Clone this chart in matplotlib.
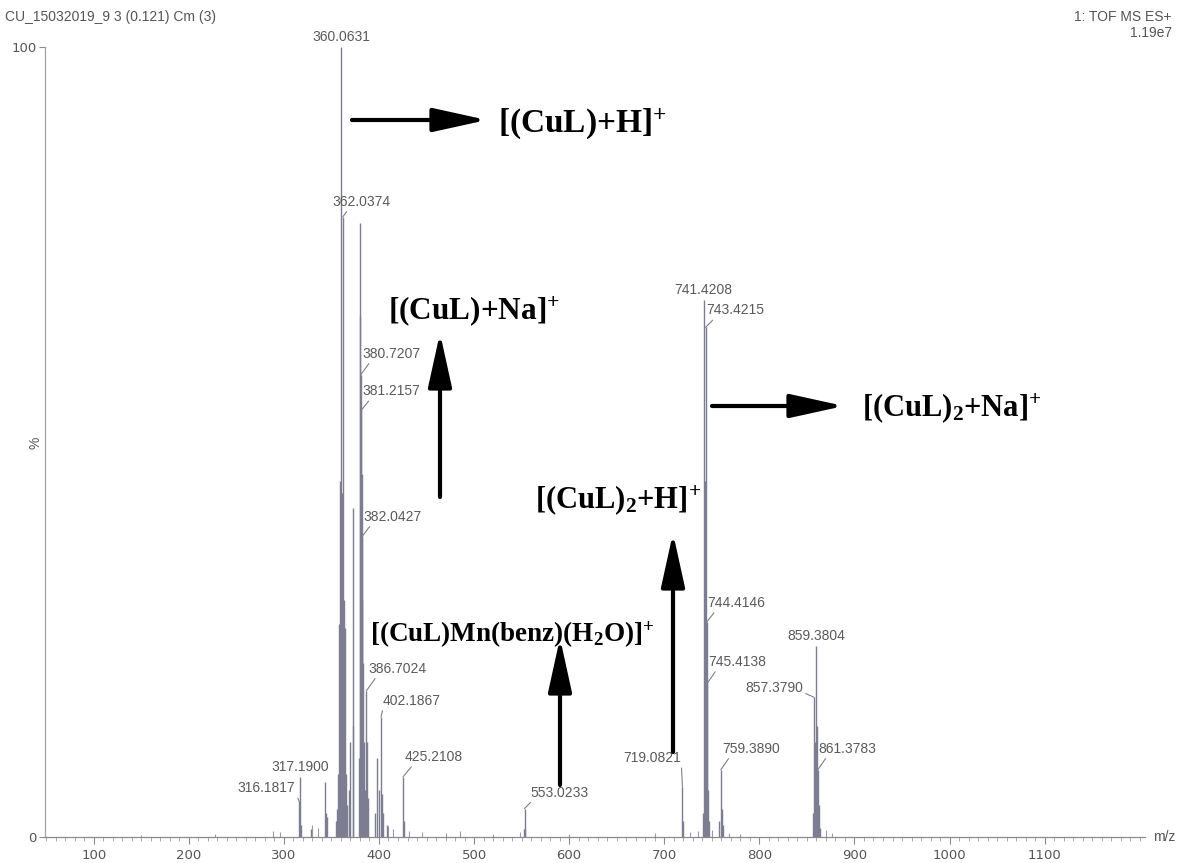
import matplotlib
matplotlib.use("Agg")
import matplotlib.pyplot as plt
from matplotlib.transforms import Affine2D
from matplotlib.ticker import MultipleLocator, FixedLocator

# ---- spectrum data (m/z, relative intensity %) ----
mz = [316.18, 317.19, 318.20, 329.0, 343.1, 344.1, 345.1, 355.0, 356.1,
      357.05, 358.05, 359.06, 360.0631, 361.07, 362.0374, 363.05, 364.04,
      365.05, 366.1, 368.2, 369.2, 372.5, 373.2, 378.7, 379.9, 380.22,
      380.7207, 381.2157, 381.72, 382.0427, 382.55, 383.04, 384.0, 385.2,
      386.7024, 387.20, 388.2, 396.2, 398.2, 400.2, 402.1867, 403.2, 404.2,
      408.2, 425.2108, 426.2, 552.02, 553.0233, 554.03, 719.0821, 720.08,
      740.4, 741.4208, 742.42, 743.4215, 744.4146, 745.4138, 746.41, 747.4,
      757.4, 759.3890, 760.39, 761.4, 856.4, 857.3790, 858.38, 859.3804,
      860.38, 861.3783, 862.38, 863.4]
intensity = [4.5, 7.6, 1.5, 1.0, 7.0, 3.0, 2.5, 2.0, 3.5,
             8.0, 27.0, 45.0, 100.0, 43.5, 78.5, 30.0, 26.5,
             8.0, 4.0, 6.0, 12.0, 41.6, 14.0, 10.0, 77.7, 66.0,
             58.5, 54.0, 46.0, 38.0, 30.0, 22.0, 12.0, 6.0,
             18.5, 12.0, 5.0, 3.0, 10.0, 6.0, 15.2, 5.5, 3.0,
             1.5, 7.6, 2.0, 1.0, 3.6, 1.2, 6.3, 2.0,
             3.0, 68.0, 45.0, 64.5, 27.2, 19.5, 6.0, 2.0,
             2.0, 8.5, 3.5, 1.5, 3.0, 17.7, 12.0, 24.2,
             14.0, 8.5, 4.0, 1.2]

# low-level baseline noise
noise_mz = [150, 228, 289, 296, 330, 336, 410, 415, 432, 445, 470, 485,
            520, 548, 600, 690, 727, 735, 750, 768, 780, 870, 876]
noise_int = [0.3, 0.4, 0.8, 0.6, 1.5, 1.2, 1.4, 1.0, 0.7, 0.6, 0.5, 0.8,
             0.4, 0.6, 0.4, 0.5, 0.6, 0.8, 0.9, 0.5, 0.4, 0.9, 0.5]

labelled = [316.18, 317.19, 360.0631, 362.0374, 380.7207, 381.2157,
            382.0427, 386.7024, 402.1867, 425.2108, 553.0233, 719.0821,
            741.4208, 743.4215, 744.4146, 745.4138, 759.3890, 857.3790,
            859.3804, 861.3783]
label_text = ["316.1817", "317.1900", "360.0631", "362.0374", "380.7207",
              "381.2157", "382.0427", "386.7024", "402.1867", "425.2108",
              "553.0233", "719.0821", "741.4208", "743.4215", "744.4146",
              "745.4138", "759.3890", "857.3790", "859.3804", "861.3783"]

x_ticks = list(range(100, 1200, 100))

W, H = 1178, 863
fig = plt.figure(figsize=(W / 100, H / 100), dpi=100)
fig.patch.set_facecolor("white")
plt.rcParams["mathtext.fontset"] = "custom"
plt.rcParams["mathtext.rm"] = "Liberation Serif:bold"
plt.rcParams["mathtext.it"] = "Liberation Serif:bold"
plt.rcParams["mathtext.bf"] = "Liberation Serif:bold"

# image-pixel coordinates (origin top-left) -> display
pix = Affine2D().scale(1, -1).translate(0, H)

ax = fig.add_axes([45 / W, 26 / H, 1100 / W, 790 / H])
ax.set_xlim(48.8, 1205.5)
ax.set_ylim(0, 100)

peak_col = "#7d7d92"
ax.vlines(noise_mz, 0, noise_int, color="#9a9aaa", lw=0.8)
ax.vlines(mz, 0, intensity, color=peak_col, lw=1.0)

for s in ("top", "right"):
    ax.spines[s].set_visible(False)
ax.spines["left"].set_color("#a0a0a0")
ax.spines["bottom"].set_color("#8a8a8a")
ax.spines["left"].set_linewidth(0.9)
ax.spines["bottom"].set_linewidth(0.9)

ax.yaxis.set_major_locator(FixedLocator([0, 100]))
ax.set_yticklabels(["0", "100"])
ax.xaxis.set_major_locator(FixedLocator(x_ticks))
ax.xaxis.set_minor_locator(MultipleLocator(10))
ax.tick_params(axis="both", which="major", colors="#8a8a8a", labelcolor="#555555",
               labelsize=9.5, length=5, width=0.8)
ax.tick_params(axis="x", which="minor", colors="#9a9a9a", length=3, width=0.6)
ax.tick_params(axis="y", which="major", length=4, pad=2)

# peak labels with leader lines (pixel offsets from the peak top)
label_style = {
    "316.1817": dict(dx=-4, dy=6, ha="right", rel=(1, 0.2)),
    "317.1900": dict(dx=0, dy=3, ha="center", rel=None),
    "360.0631": dict(dx=0, dy=3, ha="center", rel=None),
    "362.0374": dict(dx=-10, dy=8, ha="left", rel=(0.27, 0)),
    "380.7207": dict(dx=1.5, dy=14, ha="left", rel=(0.15, 0)),
    "381.2157": dict(dx=1, dy=12, ha="left", rel=(0.15, 0)),
    "382.0427": dict(dx=1, dy=13, ha="left", rel=(0.15, 0)),
    "386.7024": dict(dx=2, dy=15, ha="left", rel=(0.15, 0)),
    "402.1867": dict(dx=2, dy=9, ha="left", rel=(0.0, 0)),
    "425.2108": dict(dx=2, dy=13, ha="left", rel=(0.15, 0)),
    "553.0233": dict(dx=6, dy=9, ha="left", rel=(0.05, 0)),
    "719.0821": dict(dx=-1, dy=22, ha="right", rel=(1, 0)),
    "741.4208": dict(dx=0, dy=3, ha="center", rel=None),
    "743.4215": dict(dx=1, dy=10, ha="left", rel=(0.15, 0)),
    "744.4146": dict(dx=1, dy=12, ha="left", rel=(0.15, 0)),
    "745.4138": dict(dx=1, dy=14, ha="left", rel=(0.15, 0)),
    "759.3890": dict(dx=1, dy=14, ha="left", rel=(0.15, 0)),
    "857.3790": dict(dx=-11, dy=2, ha="right", rel=(1, 0.2)),
    "859.3804": dict(dx=0, dy=3, ha="center", rel=None),
    "861.3783": dict(dx=1, dy=14, ha="left", rel=(0.15, 0)),
}
for m, txt in zip(labelled, label_text):
    h = intensity[mz.index(m)]
    st = label_style[txt]
    ap = None
    if st["rel"] is not None:
        ap = dict(arrowstyle="-", color="#808080", lw=0.8, shrinkA=0,
                  shrinkB=0, relpos=st["rel"])
    ax.annotate(txt, xy=(m, h), xytext=(st["dx"], st["dy"]),
                textcoords="offset pixels", ha=st["ha"], va="bottom",
                fontsize=10, color="#5a5a5a", family="Liberation Sans",
                arrowprops=ap, annotation_clip=False)

# header and axis captions
gray = "#555555"
fig.text(5, 17, "CU_15032019_9 3 (0.121) Cm (3)", transform=pix, fontsize=10,
         color=gray, va="center", ha="left", family="Liberation Sans")
fig.text(1172, 17, "1: TOF MS ES+", transform=pix, fontsize=10, color=gray,
         va="center", ha="right", family="Liberation Sans")
fig.text(1172, 33, "1.19e7", transform=pix, fontsize=10, color=gray,
         va="center", ha="right", family="Liberation Sans")
fig.text(1175, 837, "m/z", transform=pix, fontsize=10, color=gray,
         va="center", ha="right", family="Liberation Sans")
fig.text(35, 443, "%", transform=pix, fontsize=10, color=gray, rotation=90,
         va="center", ha="center", family="Liberation Sans")

# assignment annotations
serif = dict(family="Liberation Serif", weight="bold", color="black")
fig.text(498, 132, r"[(CuL)+H]$^{+}$", transform=pix, ha="left", va="baseline",
         fontsize=24, **serif)
fig.text(388, 319, r"[(CuL)+Na]$^{+}$", transform=pix, ha="left", va="baseline",
         fontsize=22.5, **serif)
fig.text(862, 416, r"[(CuL)$_{2}$+Na]$^{+}$", transform=pix, ha="left",
         va="baseline", fontsize=22, **serif)
fig.text(535, 508, r"[(CuL)$_{2}$+H]$^{+}$", transform=pix, ha="left",
         va="baseline", fontsize=22, **serif)
fig.text(370, 642, r"[(CuL)Mn(benz)(H$_{2}$O)]$^{+}$", transform=pix, ha="left",
         va="baseline", fontsize=19.5, **serif)

arrows = [((352, 120), (487, 120)),
          ((440, 497), (440, 333)),
          ((712, 406), (844, 406)),
          ((673, 752), (673, 533)),
          ((560, 785), (560, 638))]
for start, end in arrows:
    ax.annotate("", xy=end, xytext=start, xycoords=pix, textcoords=pix,
                arrowprops=dict(arrowstyle="-|>,head_length=1.5,head_width=0.33",
                                mutation_scale=22, lw=3.0, color="black",
                                shrinkA=0, shrinkB=0),
                annotation_clip=False)

fig.savefig("out.png", dpi=100)
